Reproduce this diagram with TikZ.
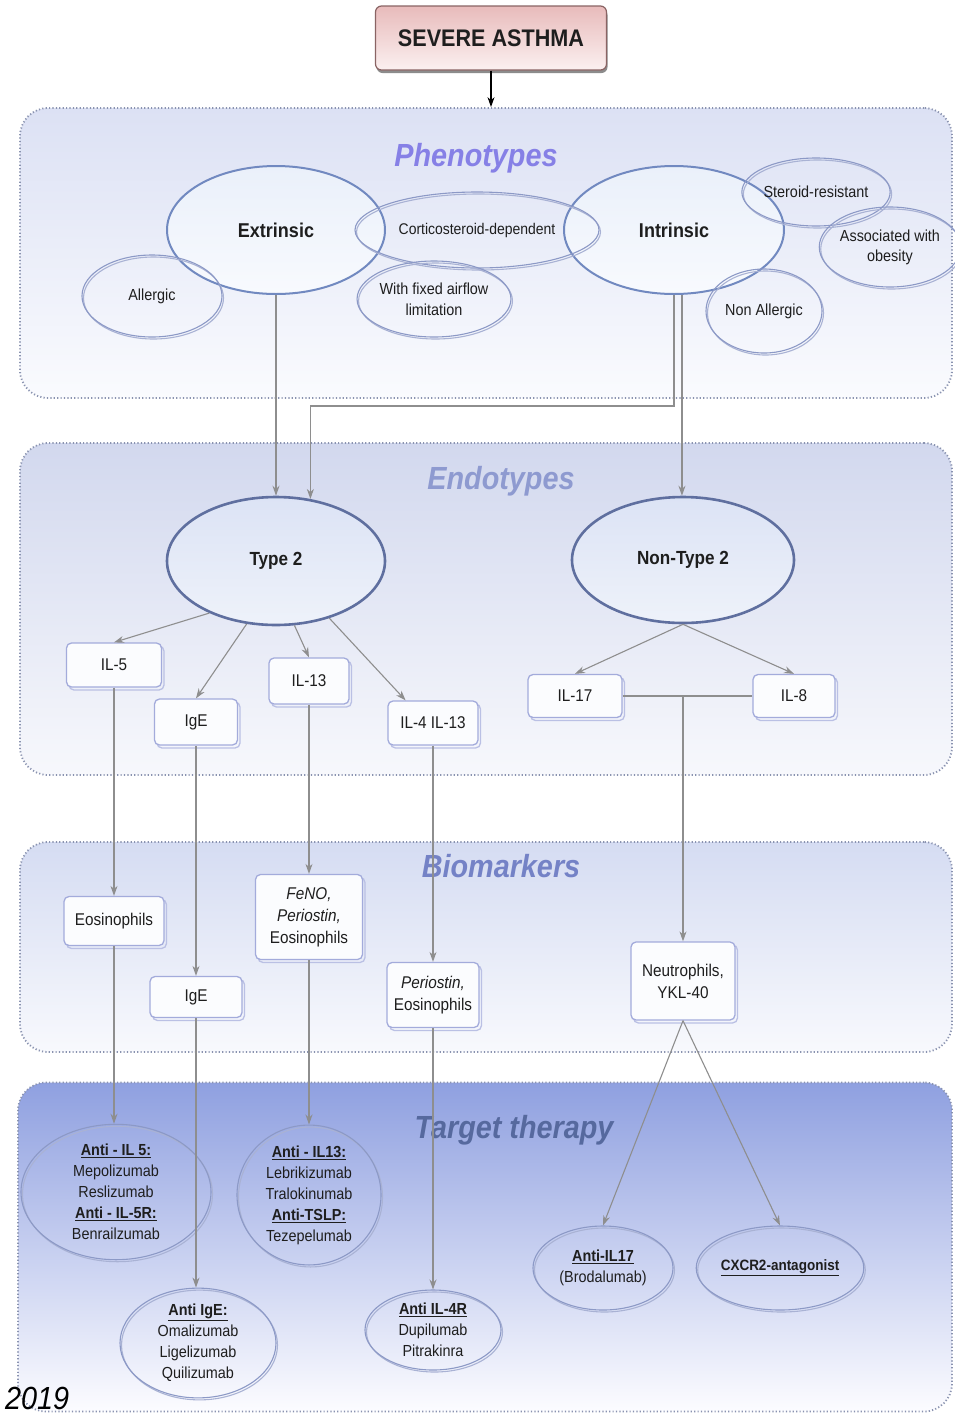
\documentclass[tikz,border=0pt]{standalone}
\usepackage{fontspec}
\setmainfont{Liberation Sans}[FakeStretch=0.9]
\usetikzlibrary{shapes.geometric,arrows.meta,calc}

\definecolor{txt}{HTML}{1E1E1E}
\definecolor{dotline}{HTML}{8A93B0}
\definecolor{bigline}{HTML}{7189C0}
\definecolor{endoline}{HTML}{5F6F9F}
\definecolor{ringcol}{HTML}{8C99C6}
\definecolor{boxline}{HTML}{A3ABDB}
\definecolor{arrgrey}{HTML}{8E8E8E}
\definecolor{ttlA}{HTML}{8680E6}
\definecolor{ttlB}{HTML}{8E9AD0}
\definecolor{ttlC}{HTML}{7482C6}
\definecolor{ttlD}{HTML}{56699E}
\definecolor{saline}{HTML}{8A6464}
\definecolor{satop}{HTML}{E8BBBB}
\definecolor{sabot}{HTML}{FBF0F0}
\definecolor{phtop}{HTML}{DCE1F4}
\definecolor{phbot}{HTML}{FAFBFE}
\definecolor{entop}{HTML}{D2D8EE}
\definecolor{enbot}{HTML}{F7F8FC}
\definecolor{bmtop}{HTML}{D5DCF2}
\definecolor{bmbot}{HTML}{F8F9FD}
\definecolor{tttop}{HTML}{8FA0E0}
\definecolor{ttbot}{HTML}{FCFCFF}
\definecolor{elltop}{HTML}{EAF0FA}
\definecolor{ellbot}{HTML}{F8FAFE}
\definecolor{endtop}{HTML}{DCE3F5}
\definecolor{endbot}{HTML}{EEF2FA}

\newcommand\fsz[2]{\fontsize{#1}{#2}\selectfont}

\tikzset{
  panel/.style={draw=dotline, line width=1.8pt, dash pattern=on 1.2pt off 2.2pt,
    rounded corners=28pt, inner sep=0pt, shading=axis},
  paneltitle/.style={font=\fsz{32}{36}\bfseries\itshape},
  sabox/.style={rectangle, rounded corners=6pt, draw=saline, line width=1.2pt,
    top color=satop, bottom color=sabot, text=txt, font=\fsz{24}{28}\bfseries,
    minimum width=231pt, minimum height=64pt,
    preaction={fill=black!45, transform canvas={xshift=1pt,yshift=-3pt}}},
  bigell/.style={ellipse, draw=bigline, line width=2pt, inner sep=0pt,
    top color=elltop, bottom color=ellbot,
    text=txt, font=\fsz{20}{24}\bfseries},
  endoell/.style={ellipse, draw=endoline, line width=2.6pt, inner sep=0pt,
    top color=endtop, bottom color=endbot,
    text=txt, font=\fsz{19}{23}\bfseries},
  ring/.style={ellipse, draw=ringcol, line width=1.1pt, inner sep=0pt,
    align=center, text=txt,
    preaction={draw=ringcol!75, line width=1.1pt,
      transform canvas={xshift=1.5pt,yshift=-2pt}}},
  phtxt/.style={font=\fsz{16}{21}},
  thtxt/.style={font=\fsz{16}{21}},
  bx/.style={rectangle, rounded corners=5pt, draw=boxline, line width=1.3pt,
    fill=white!96!boxline, align=center, text=txt, font=\fsz{17}{22},
    inner sep=0pt,
    preaction={draw=boxline!75, line width=1.3pt,
      transform canvas={xshift=2.5pt,yshift=-3pt}}},
  arr/.style={draw=arrgrey, line width=1.1pt, -{Stealth[length=10pt,width=7pt]}},
  link/.style={draw=arrgrey, line width=1.6pt},
}

\begin{document}
\begin{tikzpicture}[x=1pt, y=-1pt]
\useasboundingbox[fill=white] (0,0) rectangle (954,1417);

% ---- layer panels ----
\node[panel, top color=phtop, bottom color=phbot,
  minimum width=932pt, minimum height=290pt] (ph) at (486,253) {};
\node[panel, top color=entop, bottom color=enbot,
  minimum width=932pt, minimum height=332pt] (en) at (486,609) {};
\node[panel, top color=bmtop, bottom color=bmbot,
  minimum width=932pt, minimum height=210pt] (bm) at (486,947) {};
\node[panel, top color=tttop, bottom color=ttbot,
  minimum width=934pt, minimum height=329pt] (tt) at (485,1247) {};

% ---- panel titles ----
\node[paneltitle, text=ttlA] (tph) at (476,158) {Phenotypes};
\node[paneltitle, text=ttlB] (ten) at (501,481) {Endotypes};
\node[paneltitle, text=ttlC] (tbm) at (501,866) {Biomarkers};
\node[paneltitle, text=ttlD] (ttt) at (514,1130) {Target therapy};

% ---- root ----
\node[sabox] (sa) at (491,38) {SEVERE ASTHMA};

% ---- phenotypes ----
\node[bigell, minimum width=218pt, minimum height=128pt] (ext) at (276,230) {Extrinsic};
\node[bigell, minimum width=220pt, minimum height=128pt] (int) at (674,230) {Intrinsic};
\node[ring, phtxt, font=\fsz{15.5}{20}, minimum width=244pt, minimum height=76pt] (cort) at (477,230) {Corticosteroid-dependent};
\node[ring, phtxt, minimum width=140pt, minimum height=82pt] (allg) at (152,296) {Allergic};
\node[ring, phtxt, minimum width=132pt, minimum height=76pt] (fix) at (434,299) {With fixed airflow\\limitation};
\node[ring, phtxt, minimum width=112pt, minimum height=68pt] (ster) at (816,192) {Steroid-resistant};
\node[ring, phtxt, font=\fsz{16}{20}, minimum width=124pt, minimum height=80pt] (obes) at (890,247) {Associated with\\obesity};
\node[ring, phtxt, minimum width=116pt, minimum height=84pt] (nonal) at (764,311) {Non Allergic};

% ---- endotypes ----
\node[endoell, minimum width=218pt, minimum height=128pt] (t2) at (276,561) {Type 2};
\node[endoell, minimum width=222pt, minimum height=126pt] (nt2) at (683,560) {Non-Type 2};
\node[bx, minimum width=95pt, minimum height=44pt] (il5) at (114,665) {IL-5};
\node[bx, minimum width=83pt, minimum height=46pt] (ige) at (196,722) {IgE};
\node[bx, minimum width=80pt, minimum height=46pt] (il13) at (309,681) {IL-13};
\node[bx, minimum width=90pt, minimum height=44pt] (il4) at (433,723) {IL-4 IL-13};
\node[bx, minimum width=94pt, minimum height=43pt] (il17) at (575,696) {IL-17};
\node[bx, minimum width=82pt, minimum height=43pt] (il8) at (794,696) {IL-8};

% ---- biomarkers ----
\node[bx, minimum width=100pt, minimum height=49pt] (eos) at (114,921) {Eosinophils};
\node[bx, minimum width=92pt, minimum height=41pt] (ige2) at (196,997) {IgE};
\node[bx, minimum width=107pt, minimum height=85pt] (feno) at (309,917) {\textit{FeNO,}\\\textit{Periostin,}\\Eosinophils};
\node[bx, minimum width=92pt, minimum height=65pt] (peri) at (433,995) {\textit{Periostin,}\\Eosinophils};
\node[bx, minimum width=104pt, minimum height=78pt] (neut) at (683,981) {Neutrophils,\\YKL-40};

% ---- target therapy ----
\node[ring, thtxt, minimum width=190pt, minimum height=120pt] (a5) at (116,1192)
  {\underline{\textbf{Anti - IL 5:}}\\Mepolizumab\\Reslizumab\\\underline{\textbf{Anti - IL-5R:}}\\Benrailzumab};
\node[ring, thtxt, minimum width=144pt, minimum height=130pt] (a13) at (309,1195)
  {\underline{\textbf{Anti - IL13:}}\\Lebrikizumab\\Tralokinumab\\\underline{\textbf{Anti-TSLP:}}\\Tezepelumab};
\node[ring, thtxt, minimum width=156pt, minimum height=104pt] (aige) at (198,1343)
  {\underline{\textbf{Anti IgE:}}\\Omalizumab\\Ligelizumab\\Quilizumab};
\node[ring, thtxt, minimum width=136pt, minimum height=80pt] (a4r) at (433,1330)
  {\underline{\textbf{Anti IL-4R}}\\Dupilumab\\Pitrakinra};
\node[ring, thtxt, minimum width=140pt, minimum height=84pt] (a17) at (603,1268)
  {\underline{\textbf{Anti-IL17}}\\(Brodalumab)};
\node[ring, thtxt, font=\fsz{15}{20}, minimum width=140pt, minimum height=84pt] (cx) at (780,1268)
  {\underline{\textbf{CXCR2-antagonist}}};

% ---- year mark ----
\node[anchor=base west, inner sep=0pt, font=\fsz{32}{36}\itshape, text=black] (yr) at (5,1409) {2019};

% ---- connectors ----
\draw[line width=1.2pt, draw=black, -{Stealth[length=10pt,width=7pt]}] (sa.south) -- (sa.south |- ph.north);

\draw[arr] (ext.south) -- (t2.north);
\draw[arr] (int.south) -- ++(0,111) -| (t2.61);
\draw[arr] (int.-83) -- (int.-83 |- nt2.north);

\draw[arr] (t2.-142) -- (il5.north);
\draw[arr] (t2.-115) -- (ige.north);
\draw[arr] (t2.-74) -- (il13.north);
\draw[arr] (t2.-47) -- ($(il4.north west)!0.2!(il4.north east)$);
\draw[arr] (nt2.south) -- (il17.north);
\draw[arr] (nt2.south) -- (il8.north);
\draw[link] (il17.east) -- (il8.west);
\coordinate (jn) at (neut.north |- il17.east);
\draw[arr] (jn) -- (neut.north);

\draw[arr] (il5.south) -- (eos.north);
\draw[arr] (ige.south) -- (ige2.north);
\draw[arr] (il13.south) -- (feno.north);
\draw[arr] (il4.south) -- (peri.north);

\draw[arr] (eos.south) -- (eos.south |- a5.north);
\draw[arr] (ige2.south) -- (ige2.south |- aige.north);
\draw[arr] (feno.south) -- (a13.north);
\draw[arr] (peri.south) -- (a4r.north);
\draw[arr] (neut.south) -- (a17.north);
\draw[arr] (neut.south) -- (cx.north);
\end{tikzpicture}
\end{document}
